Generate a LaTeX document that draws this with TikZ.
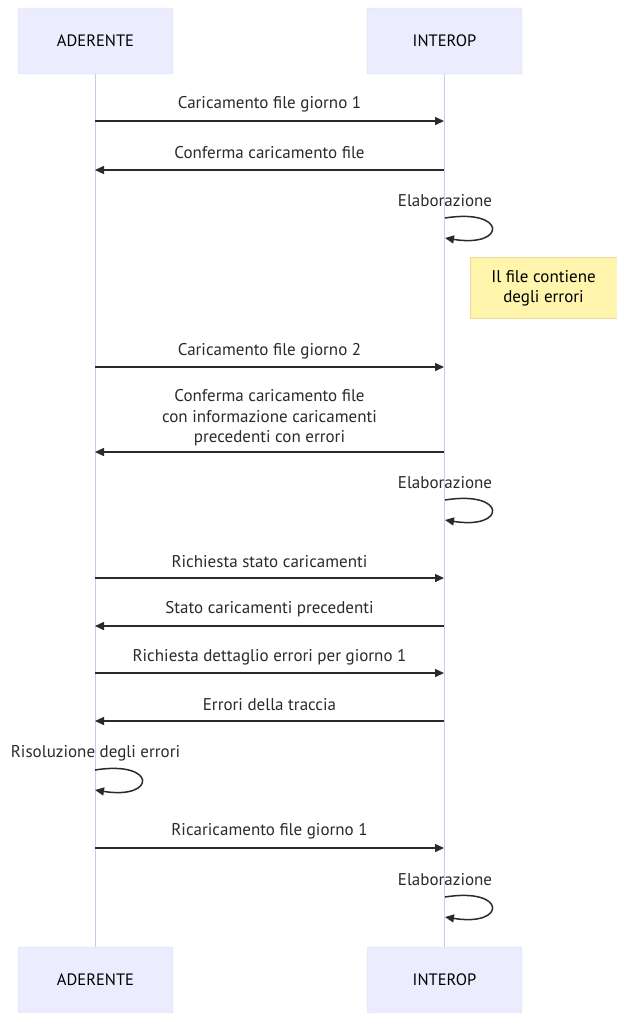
\documentclass[tikz,border=0pt]{standalone}
\usepackage{fontspec}
\setmainfont{PT Sans}
\usetikzlibrary{arrows.meta}
\definecolor{actfill}{HTML}{ECECFF}
\definecolor{actdraw}{HTML}{DCD6F2}
\definecolor{life}{HTML}{CDC6F0}
\definecolor{ink}{HTML}{2A2A2A}
\definecolor{notefill}{HTML}{FFF5AD}
\definecolor{notedraw}{HTML}{E6DC9A}
\tikzset{
  actor/.style={draw=actdraw, fill=actfill, minimum width=155pt, minimum height=66pt,
    rounded corners=2pt, font=\fontsize{16.5}{20}\selectfont, text=black, inner sep=0pt},
  msg/.style={draw=ink, line width=1.5pt, -{Triangle[length=9pt,width=8pt]}},
  lbl/.style={font=\fontsize{17}{20.5}\selectfont, text=ink, align=center, inner sep=0pt},
  lifeline/.style={draw=life, line width=1.1pt},
  notebox/.style={draw=notedraw, fill=notefill, minimum width=147pt, minimum height=61pt,
    font=\fontsize{17}{20}\selectfont, text=black, align=center, inner sep=0pt}
}
\begin{document}
\begin{tikzpicture}[x=1pt,y=-1pt]
\useasboundingbox (0,0) rectangle (617,1013);
% actors
\node[actor] (a1) at (95.5,41) {ADERENTE};
\node[actor] (i1) at (444.5,41) {INTEROP};
\node[actor] (a2) at (95.5,980) {ADERENTE};
\node[actor] (i2) at (444.5,980) {INTEROP};
\draw[lifeline] (a1.south) -- (a2.north);
\draw[lifeline] (i1.south) -- (i2.north);
% message 1
\coordinate (m1a) at (95,121); \coordinate (m1i) at (444,121);
\draw[msg] (m1a) -- (m1i);
\node[lbl] (t1) at (269.5,104) {Caricamento file giorno 1};
% message 2
\coordinate (m2a) at (95,170); \coordinate (m2i) at (444,170);
\draw[msg] (m2i) -- (m2a);
\node[lbl] (t2) at (269.5,153) {Conferma caricamento file};
% elaborazione 1
\node[lbl] (e1t) at (445,201) {Elaborazione};
\coordinate (e1) at (445,218);
\draw[msg] (e1) .. controls (507,208) and (507,248) .. (445,238);
% note
\node[notebox] (n1) at (543.5,288) {Il file contiene\\degli errori};
% message 3
\coordinate (m3a) at (95,367); \coordinate (m3i) at (444,367);
\draw[msg] (m3a) -- (m3i);
\node[lbl] (t3) at (269.5,351) {Caricamento file giorno 2};
% message 4
\coordinate (m4a) at (95,452); \coordinate (m4i) at (444,452);
\draw[msg] (m4i) -- (m4a);
\node[lbl] (t4) at (269.5,418) {Conferma caricamento file\\con informazione caricamenti\\precedenti con errori};
% elaborazione 2
\node[lbl] (e2t) at (445,483) {Elaborazione};
\coordinate (e2) at (445,500);
\draw[msg] (e2) .. controls (507,490) and (507,530) .. (445,520);
% message 5
\coordinate (m5a) at (95,578); \coordinate (m5i) at (444,578);
\draw[msg] (m5a) -- (m5i);
\node[lbl] (t5) at (269.5,562) {Richiesta stato caricamenti};
% message 6
\coordinate (m6a) at (95,626); \coordinate (m6i) at (444,626);
\draw[msg] (m6i) -- (m6a);
\node[lbl] (t6) at (269.5,609) {Stato caricamenti precedenti};
% message 7
\coordinate (m7a) at (95,673); \coordinate (m7i) at (444,673);
\draw[msg] (m7a) -- (m7i);
\node[lbl] (t7) at (269.5,657) {Richiesta dettaglio errori per giorno 1};
% message 8
\coordinate (m8a) at (95,721); \coordinate (m8i) at (444,721);
\draw[msg] (m8i) -- (m8a);
\node[lbl] (t8) at (269.5,705) {Errori della traccia};
% risoluzione
\node[lbl] (rt) at (95.5,753) {Risoluzione degli errori};
\coordinate (r1) at (95,770);
\draw[msg] (r1) .. controls (157,760) and (157,800) .. (95,790);
% message 9
\coordinate (m9a) at (95,848); \coordinate (m9i) at (444,848);
\draw[msg] (m9a) -- (m9i);
\node[lbl] (t9) at (269.5,831) {Ricaricamento file giorno 1};
% elaborazione 3
\node[lbl] (e3t) at (445,880) {Elaborazione};
\coordinate (e3) at (445,897);
\draw[msg] (e3) .. controls (507,887) and (507,927) .. (445,917);
\end{tikzpicture}
\end{document}
